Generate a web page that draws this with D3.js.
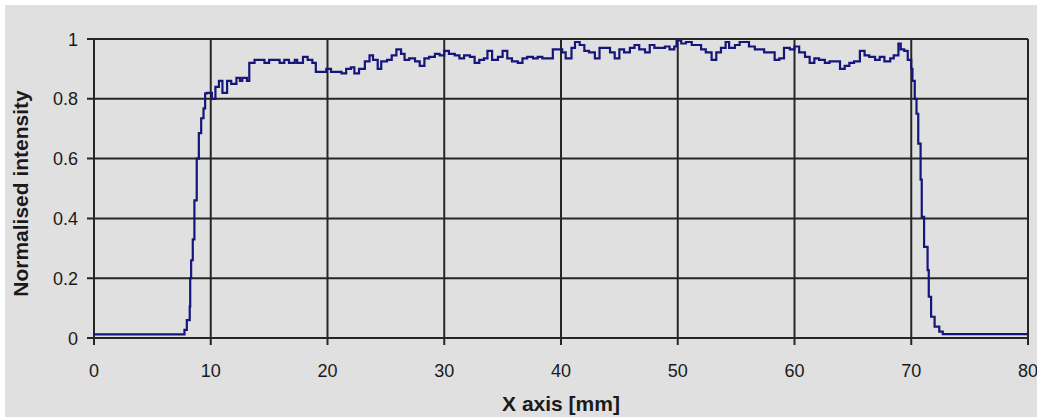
<!DOCTYPE html>
<meta charset="utf-8">
<style>
  body { margin: 0; background: #fff; }
  text { font-family: "Liberation Sans", Arial, sans-serif; fill: #1a1a1a; }
  text.tick { font-size: 18px; }
  text.title { font-size: 21px; font-weight: bold; }
</style>
<script src="https://d3js.org/d3.v7.min.js"></script>
<div id="my_dataviz"></div>
<script>

// position along the x axis [mm]
var xPos = [0, 7.6, 7.75, 7.95, 8.2, 8.24, 8.32, 8.46, 8.6, 8.8, 8.98, 9.18, 9.38, 9.52, 9.7, 9.9,
  10.1, 10.4, 10.7, 11.0, 11.4, 11.75, 12.2, 12.5, 12.7, 13.1, 13.3, 13.75, 14.2, 14.6, 15.0, 15.5,
  15.9, 16.3, 16.7, 17.2, 17.4, 17.9, 18.3, 18.7, 19.0, 19.5, 19.9, 20.3, 20.7, 21.2, 21.6, 22.0,
  22.3, 22.7, 23.2, 23.6, 23.9, 24.3, 24.6, 25.1, 25.5, 25.9, 26.3, 26.6, 27.0, 27.5, 27.9, 28.3,
  28.7, 29.2, 29.6, 30.0, 30.4, 30.9, 31.3, 31.7, 32.2, 32.6, 33.0, 33.4, 33.7, 34.1, 34.6, 35.0,
  35.4, 35.8, 36.3, 36.7, 37.1, 37.6, 38.0, 38.4, 38.8, 39.3, 39.7, 40.1, 40.4, 40.9, 41.2, 41.6,
  42.0, 42.4, 42.9, 43.3, 43.7, 44.2, 44.6, 45.0, 45.4, 45.9, 46.3, 46.7, 47.2, 47.6, 48.0, 48.4,
  48.9, 49.3, 49.7, 49.9, 50.3, 50.7, 51.2, 51.6, 52.0, 52.4, 52.9, 53.3, 53.7, 54.1, 54.4, 54.9,
  55.3, 55.7, 56.1, 56.6, 57.0, 57.4, 57.9, 58.3, 58.7, 59.1, 59.6, 60.0, 60.4, 60.9, 61.3, 61.7,
  62.1, 62.6, 63.0, 63.4, 63.9, 64.3, 64.7, 65.1, 65.6, 66.0, 66.4, 66.9, 67.3, 67.7, 68.2, 68.5,
  68.9, 69.1, 69.4, 69.7, 70.0, 70.1, 70.3, 70.45, 70.6, 70.8, 70.9, 71.1, 71.4, 71.5, 71.7, 72.0,
  72.4, 72.7, 80];

// normalised intensity at each position
var intensity = [0.012, 0.012, 0.027, 0.06, 0.105, 0.2, 0.26, 0.33, 0.46, 0.6, 0.685, 0.735, 0.768, 0.818, 0.82, 0.82,
  0.80, 0.84, 0.86, 0.82, 0.86, 0.85, 0.87, 0.86, 0.87, 0.86, 0.92, 0.93, 0.93, 0.92, 0.93, 0.93,
  0.92, 0.93, 0.92, 0.93, 0.92, 0.94, 0.93, 0.92, 0.89, 0.89, 0.90, 0.89, 0.89, 0.885, 0.90, 0.905,
  0.885, 0.90, 0.925, 0.945, 0.93, 0.90, 0.925, 0.93, 0.945, 0.965, 0.95, 0.93, 0.935, 0.925, 0.91, 0.935,
  0.94, 0.95, 0.945, 0.96, 0.95, 0.945, 0.935, 0.945, 0.94, 0.92, 0.93, 0.935, 0.96, 0.93, 0.94, 0.96,
  0.935, 0.925, 0.92, 0.935, 0.94, 0.935, 0.94, 0.935, 0.935, 0.965, 0.965, 0.955, 0.935, 0.97, 0.99, 0.98,
  0.96, 0.955, 0.935, 0.97, 0.97, 0.955, 0.935, 0.965, 0.955, 0.97, 0.98, 0.965, 0.955, 0.98, 0.97, 0.97,
  0.975, 0.965, 0.975, 0.995, 0.985, 0.99, 0.98, 0.98, 0.965, 0.955, 0.93, 0.955, 0.97, 0.99, 0.97, 0.98,
  0.99, 0.99, 0.975, 0.965, 0.965, 0.955, 0.955, 0.93, 0.935, 0.97, 0.965, 0.975, 0.955, 0.94, 0.92, 0.935,
  0.93, 0.92, 0.925, 0.925, 0.90, 0.91, 0.92, 0.925, 0.96, 0.945, 0.94, 0.93, 0.94, 0.925, 0.935, 0.945,
  0.985, 0.965, 0.96, 0.93, 0.90, 0.86, 0.80, 0.75, 0.65, 0.53, 0.405, 0.305, 0.227, 0.138, 0.071, 0.038,
  0.021, 0.013, 0.013];

var xTicks = [0, 10, 20, 30, 40, 50, 60, 70, 80];
var yTicks = [0, 0.2, 0.4, 0.6, 0.8, 1];

var W = 1037, H = 417;
var margin = {top: 39, right: 9, bottom: 79, left: 94};
var width = W - margin.left - margin.right,
    height = H - margin.top - margin.bottom;

var root = d3.select("#my_dataviz")
  .append("svg")
    .attr("width", W)
    .attr("height", H);

// grey panel
root.append("rect")
  .attr("x", 5).attr("y", 5)
  .attr("width", W - 5).attr("height", H - 5)
  .attr("fill", "#e0e0e0");

var svg = root.append("g")
  .attr("transform", "translate(" + margin.left + "," + margin.top + ")");

var x = d3.scaleLinear().domain([0, 80]).range([0, width]);
var y = d3.scaleLinear().domain([0, 1]).range([height, 0]);

// grid + ticks
var gridColor = "#262626";
svg.append("g")
  .selectAll("line")
  .data(xTicks)
  .enter().append("line")
    .attr("x1", function(d){ return x(d); })
    .attr("x2", function(d){ return x(d); })
    .attr("y1", 0)
    .attr("y2", height + 7)
    .attr("stroke", gridColor)
    .attr("stroke-width", 2);

svg.append("g")
  .selectAll("line")
  .data(yTicks)
  .enter().append("line")
    .attr("x1", -7)
    .attr("x2", width)
    .attr("y1", function(d){ return y(d); })
    .attr("y2", function(d){ return y(d); })
    .attr("stroke", gridColor)
    .attr("stroke-width", 2);

// tick labels
svg.append("g")
  .selectAll("text")
  .data(xTicks)
  .enter().append("text")
    .attr("class", "tick")
    .attr("x", function(d){ return x(d); })
    .attr("y", height + 39)
    .attr("text-anchor", "middle")
    .text(function(d){ return d; });

svg.append("g")
  .selectAll("text")
  .data(yTicks)
  .enter().append("text")
    .attr("class", "tick")
    .attr("x", -16)
    .attr("y", function(d){ return y(d) + 6.5; })
    .attr("text-anchor", "end")
    .text(function(d){ return d; });

// the profile
var data = xPos.map(function(d, i){ return {x: d, v: intensity[i]}; });
var line = d3.line()
  .x(function(d){ return x(d.x); })
  .y(function(d){ return y(d.v); })
  .curve(d3.curveStepAfter);

svg.append("path")
  .datum(data)
  .attr("d", line)
  .attr("fill", "none")
  .attr("stroke", "#15157a")
  .attr("stroke-width", 2.2);

// axis titles
root.append("text")
  .attr("class", "title")
  .attr("x", margin.left + width / 2)
  .attr("y", 411)
  .attr("text-anchor", "middle")
  .text("X axis [mm]");

root.append("text")
  .attr("class", "title")
  .attr("transform", "translate(28," + (margin.top + height / 2 + 5) + ") rotate(-90)")
  .attr("text-anchor", "middle")
  .text("Normalised intensity");

</script>
